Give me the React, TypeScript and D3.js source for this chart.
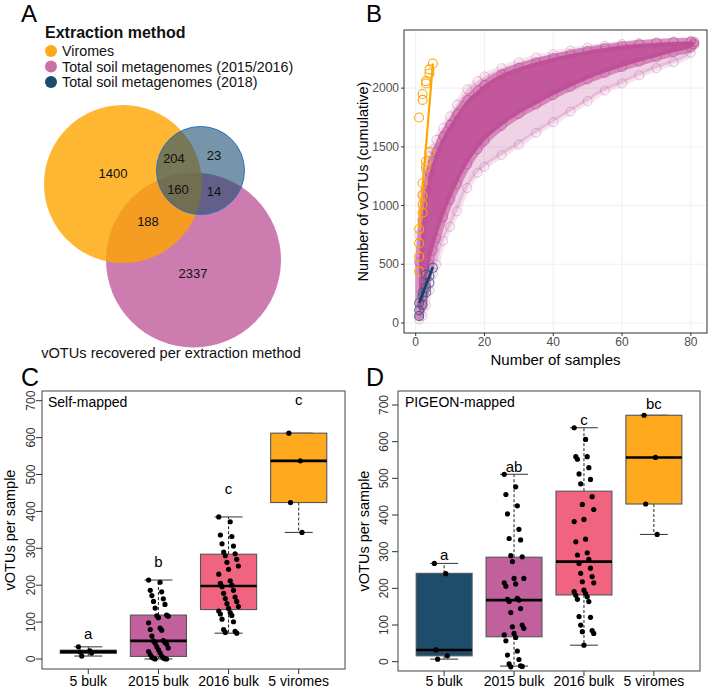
import React from "react";
import * as d3 from "d3";

const FONT = "'Liberation Sans', Arial, Helvetica, sans-serif";

// ---------- Panel A data ----------
const legendLabels = ["Viromes", "Total soil metagenomes (2015/2016)", "Total soil metagenomes (2018)"];
const legendColors = ["#FFA81A", "#CB70A3", "#1B4B6B"];
const vennRegionLabels = ["1400", "204", "23", "160", "14", "188", "2337"];

// ---------- Panel B data ----------
const bN = [1, 2, 3, 4, 5, 6, 8, 10, 12, 15, 18, 20, 25, 30, 35, 40, 45, 50, 55, 60, 65, 70, 75, 80, 81];
const bMax = [750, 1100, 1300, 1420, 1480, 1560, 1660, 1760, 1860, 1990, 2060, 2100, 2170, 2220, 2260, 2290, 2320, 2345, 2360, 2375, 2385, 2392, 2398, 2402, 2395];
const bCoreHigh = [520, 880, 1130, 1280, 1380, 1460, 1590, 1690, 1780, 1900, 1980, 2030, 2120, 2175, 2220, 2258, 2290, 2318, 2342, 2360, 2375, 2385, 2392, 2397, 2390];
const bCoreLow = [60, 160, 320, 500, 620, 720, 900, 1050, 1180, 1350, 1480, 1550, 1680, 1780, 1860, 1940, 2010, 2075, 2130, 2180, 2225, 2265, 2305, 2345, 2375];
const bMin = [30, 60, 150, 280, 420, 500, 700, 820, 950, 1150, 1280, 1330, 1430, 1520, 1620, 1710, 1800, 1890, 1980, 2040, 2110, 2170, 2220, 2300, 2370];

const viromeN = [1, 1, 1, 1, 1, 2, 2, 2, 2, 2, 2, 3, 3, 3, 3, 4, 4, 4, 5];
const viromeV = [440, 565, 680, 800, 1750, 940, 1010, 1085, 1190, 1900, 1950, 1330, 1375, 2040, 2060, 1455, 2125, 2160, 2210];
const viromeLineN = [1, 5];
const viromeLineV = [800, 2210];

const soil2018N = [1, 1, 1, 2, 2, 2, 3, 3, 3, 4, 4, 5];
const soil2018V = [60, 110, 170, 155, 226, 260, 260, 300, 410, 342, 400, 470];
const soil2018LineN = [1, 5];
const soil2018LineV = [170, 476];

const bXTicks = [0, 20, 40, 60, 80];
const bYTicks = [0, 500, 1000, 1500, 2000];

// ---------- Panels C & D data ----------
const categories = ["5 bulk", "2015 bulk", "2016 bulk", "5 viromes"];
const boxColors = ["#1E4D6B", "#C2609D", "#F0647F", "#FFAA1E"];
const yTicksBox = [0, 100, 200, 300, 400, 500, 600, 700];

// Self-mapped (C)
const cQ1 = [15, 7, 134, 424];
const cMed = [20, 49, 198, 537];
const cQ3 = [24, 119, 284, 612];
const cWLo = [8, 0, 70, 343];
const cWHi = [33, 214, 385, 612];
const cLetters = ["a", "b", "c", "c"];
const cLetterY = [68, 264, 462, 702];
const cPts5bulk = [33, 22, 19, 16, 8];
const cPts2015 = [214, 208, 186, 182, 172, 163, 156, 148, 138, 119, 117, 116, 112, 98, 84, 80, 78, 62, 50, 49, 45, 43, 40, 33, 30, 25, 20, 17, 12, 8, 5, 3, 2, 1, 0, 0];
const cPts2016 = [385, 372, 336, 332, 312, 306, 290, 285, 280, 270, 262, 252, 243, 230, 212, 205, 200, 196, 186, 178, 168, 164, 156, 150, 142, 137, 130, 126, 122, 118, 108, 101, 80, 75, 72, 70];
const cPtsViromes = [612, 537, 424, 343];

// PIGEON-mapped (D)
const dQ1 = [16, 68, 182, 430];
const dMed = [32, 168, 273, 557];
const dQ3 = [241, 285, 465, 672];
const dWLo = [7, -12, 45, 347];
const dWHi = [268, 511, 638, 672];
const dLetters = ["a", "ab", "c", "bc"];
const dLetterY = [291, 532, 661, 705];
const dPts5bulk = [268, 240, 32, 16, 7];
const dPts2015 = [511, 477, 456, 425, 403, 361, 336, 332, 289, 286, 273, 227, 227, 215, 212, 206, 173, 170, 168, 164, 145, 134, 100, 95, 91, 77, 73, 66, 57, 29, 18, 6, -6, -11, -14, -13];
const dPts2016 = [638, 606, 559, 559, 552, 529, 512, 497, 485, 450, 429, 415, 388, 382, 334, 327, 297, 291, 279, 268, 255, 241, 232, 218, 215, 195, 191, 186, 181, 177, 170, 164, 123, 121, 100, 85, 82, 77, 45];
const dPtsViromes = [672, 557, 430, 347];

// ---------- Panel A ----------
function PanelA() {
  // Venn layout (pixel geometry of the diagram)
  const circles = [
    { cx: 193.5, cy: 260, r: 87.5, fill: "#B8448E", op: 0.7, stroke: "none" },
    { cx: 123, cy: 184, r: 79, fill: "#FFA500", op: 0.8, stroke: "none" },
    { cx: 200.5, cy: 170.5, r: 44, fill: "#1B4F72", op: 0.6, stroke: "#2B6FC4" },
  ];
  const labelPos = [
    [113, 173], [174, 158], [214, 155], [178, 189], [214, 191], [148, 221], [193, 273],
  ];
  return (
    <g>
      <text x={21} y={22} fontSize={24} fill="#000">A</text>
      <text x={45} y={37.5} fontSize={16} fontWeight="bold" fill="#111">Extraction method</text>
      {legendLabels.map((l, i) => (
        <g key={l}>
          <circle cx={51} cy={51 + i * 15.5} r={6} fill={legendColors[i]} />
          <text x={62} y={56 + i * 15.5} fontSize={14.3} fill="#111">{l}</text>
        </g>
      ))}
      {circles.map((c, i) => (
        <circle key={i} cx={c.cx} cy={c.cy} r={c.r} fill={c.fill} fillOpacity={c.op}
          stroke={c.stroke} strokeWidth={1} />
      ))}
      {vennRegionLabels.map((l, i) => (
        <text key={i} x={labelPos[i][0]} y={labelPos[i][1]} fontSize={13} textAnchor="middle"
          dominantBaseline="central" fill="#111">{l}</text>
      ))}
      <text x={171} y={358} fontSize={14.6} textAnchor="middle" fill="#111">vOTUs recovered per extraction method</text>
    </g>
  );
}

// ---------- Panel B ----------
function PanelB() {
  const L = 404, R = 707, T = 30, B = 333;
  const x = d3.scaleLinear().domain([-3.4, 84.7]).range([L, R]);
  const y = d3.scaleLinear().domain([-85, 2495]).range([B, T]);
  const outer = d3.area<number>()
    .x((_, i) => x(bN[i])).y0((_, i) => y(bMin[i])).y1((_, i) => y(bMax[i]))
    .curve(d3.curveMonotoneX)(bN);
  const core = d3.area<number>()
    .x((_, i) => x(bN[i])).y0((_, i) => y(bCoreLow[i])).y1((_, i) => y(bCoreHigh[i]))
    .curve(d3.curveMonotoneX)(bN);
  const line = d3.line<number>();
  const mag = "#BE4C96";
  const edgePts: [number, number][] = [];
  bN.forEach((n, i) => {
    [bMin[i], bMax[i]].forEach((v) => edgePts.push([n, v]));
  });
  const corePts: [number, number][] = [];
  bN.forEach((n, i) => {
    [bCoreLow[i], bCoreHigh[i]].forEach((v) => corePts.push([n, v]));
  });
  return (
    <g>
      <text x={366} y={22} fontSize={24} fill="#000">B</text>
      <defs>
        <clipPath id="clipB"><rect x={L} y={T} width={R - L} height={B - T} /></clipPath>
      </defs>
      <rect x={L} y={T} width={R - L} height={B - T} fill="#fff" />
      {bXTicks.map((t) => (
        <line key={"gx" + t} x1={x(t)} x2={x(t)} y1={T} y2={B} stroke="#EBEBEB" strokeWidth={0.8} />
      ))}
      {bYTicks.map((t) => (
        <line key={"gy" + t} x1={L} x2={R} y1={y(t)} y2={y(t)} stroke="#EBEBEB" strokeWidth={0.8} />
      ))}
      <g clipPath="url(#clipB)">
        <path d={outer || ""} fill={mag} fillOpacity={0.25} stroke={mag} strokeOpacity={0.15} strokeWidth={6} strokeLinejoin="round" />
        <path d={core || ""} fill={mag} fillOpacity={0.92} stroke={mag} strokeOpacity={0.55} strokeWidth={8} strokeLinejoin="round" />
        {edgePts.map(([n, v], i) => (
          <circle key={"m" + i} cx={x(n)} cy={y(v)} r={4.5} fill="none" stroke={mag} strokeOpacity={0.35} strokeWidth={1} />
        ))}
        {corePts.map(([n, v], i) => (
          <circle key={"c" + i} cx={x(n)} cy={y(v)} r={4.5} fill="none" stroke={mag} strokeOpacity={0.6} strokeWidth={1} />
        ))}
        {viromeN.map((n, i) => (
          <circle key={"v" + i} cx={x(n)} cy={y(viromeV[i])} r={4.5} fill="none" stroke="#FFA500" strokeWidth={1.1} />
        ))}
        {soil2018N.map((n, i) => (
          <circle key={"s" + i} cx={x(n)} cy={y(soil2018V[i])} r={4.5} fill="none" stroke="#2C5D8C" strokeOpacity={0.8} strokeWidth={1.1} />
        ))}
        <path d={line(viromeLineN.map((n, i) => [x(n), y(viromeLineV[i])])) || ""} stroke="#FFA500" strokeWidth={2.2} fill="none" />
        <path d={line(soil2018LineN.map((n, i) => [x(n), y(soil2018LineV[i])])) || ""} stroke="#0E4560" strokeWidth={2.6} fill="none" />
      </g>
      <rect x={L} y={T} width={R - L} height={B - T} fill="none" stroke="#333" strokeWidth={1} />
      {bXTicks.map((t) => (
        <g key={"tx" + t}>
          <line x1={x(t)} x2={x(t)} y1={B} y2={B + 3} stroke="#333" />
          <text x={x(t)} y={B + 13} fontSize={12} textAnchor="middle" fill="#4D4D4D">{t}</text>
        </g>
      ))}
      {bYTicks.map((t) => (
        <g key={"ty" + t}>
          <line x1={L - 3} x2={L} y1={y(t)} y2={y(t)} stroke="#333" />
          <text x={L - 5} y={y(t)} fontSize={12} textAnchor="end" dominantBaseline="central" fill="#4D4D4D">{t}</text>
        </g>
      ))}
      <text x={(L + R) / 2} y={365} fontSize={15} textAnchor="middle" fill="#000">Number of samples</text>
      <text transform={`translate(368,${(T + B) / 2}) rotate(-90)`} fontSize={14.5} textAnchor="middle" fill="#000">Number of vOTUs (cumulative)</text>
    </g>
  );
}

// ---------- Box panels ----------
type BoxProps = {
  label: string; title: string; L: number; R: number; T: number; B: number; y0: number; y700: number;
  q1: number[]; med: number[]; q3: number[]; wlo: number[]; whi: number[];
  letters: string[]; letterY: number[]; pts: number[][]; titleX: number; axisTitleX: number; tickLabelX: number;
  labelX: number;
};

function BoxPanel(p: BoxProps) {
  const x = d3.scaleLinear().domain([0.34, 4.66]).range([p.L, p.R]);
  const y = d3.scaleLinear().domain([0, 700]).range([p.y0, p.y700]);
  const bw = (x(1.4) - x(1)); // half box width (0.8 box)
  const sw = bw / 2;
  const jitter = (i: number) => (((i * 7) % 13) - 6) / 6 * 0.14;
  return (
    <g>
      <text x={p.labelX} y={386} fontSize={25} fill="#000">{p.label}</text>
      {categories.map((c, i) => {
        const cx = x(i + 1);
        return (
          <g key={c}>
            <line x1={cx} x2={cx} y1={y(p.q3[i])} y2={y(p.whi[i])} stroke="#222" strokeDasharray="3,2" strokeWidth={1} />
            <line x1={cx} x2={cx} y1={y(p.q1[i])} y2={y(p.wlo[i])} stroke="#222" strokeDasharray="3,2" strokeWidth={1} />
            <line x1={cx - sw} x2={cx + sw} y1={y(p.whi[i])} y2={y(p.whi[i])} stroke="#444" strokeWidth={1.1} />
            <line x1={cx - sw} x2={cx + sw} y1={y(p.wlo[i])} y2={y(p.wlo[i])} stroke="#444" strokeWidth={1.1} />
            <rect x={cx - bw} y={y(p.q3[i])} width={2 * bw} height={Math.max(0.5, y(p.q1[i]) - y(p.q3[i]))}
              fill={boxColors[i]} stroke="#555" strokeWidth={1.1} />
            <line x1={cx - bw} x2={cx + bw} y1={y(p.med[i])} y2={y(p.med[i])} stroke="#000" strokeWidth={2.6} />
            {p.pts[i].map((v, j) => (
              <circle key={j} cx={x(i + 1 + jitter(j))} cy={y(v)} r={2.6} fill="#000" />
            ))}
            <text x={cx} y={y(p.letterY[i])} fontSize={15} textAnchor="middle" dominantBaseline="central" fill="#000">{p.letters[i]}</text>
            <line x1={cx} x2={cx} y1={p.B} y2={p.B + 5} stroke="#333" />
            <text x={cx} y={686} fontSize={14} textAnchor="middle" fill="#000">{c}</text>
          </g>
        );
      })}
      <rect x={p.L} y={p.T} width={p.R - p.L} height={p.B - p.T} fill="none" stroke="#555" strokeWidth={1.1} />
      {yTicksBox.map((t) => (
        <g key={t}>
          <line x1={p.L - 6} x2={p.L} y1={y(t)} y2={y(t)} stroke="#333" />
          <text transform={`translate(${p.tickLabelX},${y(t)}) rotate(-90)`} fontSize={12} textAnchor="middle" fill="#333">{t}</text>
        </g>
      ))}
      <text x={p.titleX} y={407} fontSize={14} fill="#000">{p.title}</text>
      <text transform={`translate(${p.axisTitleX},${(p.T + p.B) / 2}) rotate(-90)`} fontSize={14.5} textAnchor="middle" fill="#000">vOTUs per sample</text>
    </g>
  );
}

export default function App() {
  return (
    <svg width={709} height={690} style={{ position: "absolute", left: 0, top: 0, background: "#fff" }} fontFamily={FONT}>
      <rect width={709} height={690} fill="#fff" />
      <PanelA />
      <PanelB />
      <BoxPanel label="C" title="Self-mapped" L={42} R={345} T={391} B={669} y0={659} y700={400.7}
        q1={cQ1} med={cMed} q3={cQ3} wlo={cWLo} whi={cWHi} letters={cLetters} letterY={cLetterY}
        pts={[cPts5bulk, cPts2015, cPts2016, cPtsViromes]} titleX={48} axisTitleX={15} tickLabelX={35} labelX={21} />
      <BoxPanel label="D" title="PIGEON-mapped" L={398} R={700} T={391} B={671} y0={661.7} y700={405}
        q1={dQ1} med={dMed} q3={dQ3} wlo={dWLo} whi={dWHi} letters={dLetters} letterY={dLetterY}
        pts={[dPts5bulk, dPts2015, dPts2016, dPtsViromes]} titleX={405} axisTitleX={369} tickLabelX={388} labelX={366} />
    </svg>
  );
}
